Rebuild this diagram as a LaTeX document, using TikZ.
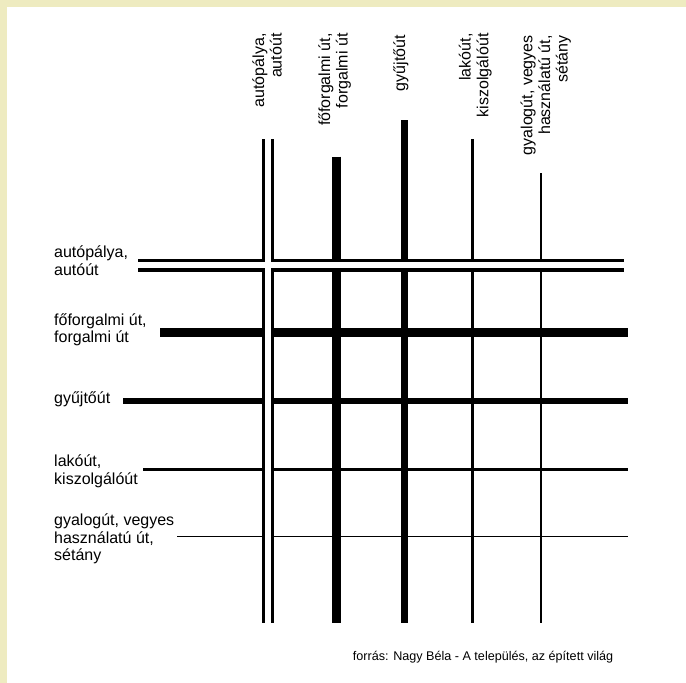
\documentclass[tikz,border=0pt]{standalone}
\usepackage{fontspec}
\setmainfont{Liberation Sans}
\definecolor{framecol}{RGB}{238,235,192}
\begin{document}
\begin{tikzpicture}[x=1pt,y=-1pt,
  rowlbl/.style={font=\fontsize{16}{17.7}\selectfont, inner sep=0pt, align=left, anchor=base west},
  collbl/.style={font=\fontsize{16}{17.7}\selectfont, inner sep=0pt, align=right, rotate=90, anchor=base east},
  srclbl/.style={font=\fontsize{12.6}{14}\selectfont, inner sep=0pt, anchor=base west},
  road/.style={line cap=butt, draw=black},
  fo/.style={road, line width=9pt},
  gy/.style={road, line width=6.5pt},
  la/.style={road, line width=3pt},
  ga/.style={road, line width=1.5pt},
  motorouter/.style={road, line width=12.5pt},
  motorinner/.style={line cap=butt, draw=white, line width=5.3pt}
]
\useasboundingbox (0,0) rectangle (686,683);
\fill[white] (0,0) rectangle (686,683);
\fill[framecol] (0,0) rectangle (686,7);
\fill[framecol] (0,0) rectangle (7,683);

% named end points of the roads
\coordinate (hA1) at (138,265);   \coordinate (hA2) at (624,265);
\coordinate (hF1) at (160,332.5); \coordinate (hF2) at (628,332.5);
\coordinate (hG1) at (123,401);   \coordinate (hG2) at (628,401);
\coordinate (hL1) at (143,469);   \coordinate (hL2) at (628,469);
\coordinate (hP1) at (177,536.5); \coordinate (hP2) at (628,536.5);
\coordinate (vA1) at (268,139.3); \coordinate (vA2) at (268,623);
\coordinate (vF1) at (336.2,156.7); \coordinate (vF2) at (336.2,623);
\coordinate (vG1) at (404.5,120); \coordinate (vG2) at (404.5,623);
\coordinate (vL1) at (472.5,139.3); \coordinate (vL2) at (472.5,623);
\coordinate (vP1) at (541,173.3); \coordinate (vP2) at (541,623);

% ordinary roads
\draw[fo] (hF1) -- (hF2);
\draw[gy] (hG1) -- (hG2);
\draw[la] (hL1) -- (hL2);
\draw[ga] (hP1) -- (hP2);
\draw[fo] (vF1) -- (vF2);
\draw[gy] (vG1) -- (vG2);
\draw[la] (vL1) -- (vL2);
\draw[ga] (vP1) -- (vP2);

% motorways (double lines on top)
\draw[motorouter] (vA1) -- (vA2);
\draw[motorouter, line width=13pt] (hA1) -- (hA2);
\draw[motorinner] (vA1) -- (vA2);
\draw[motorinner, line width=5.6pt] (hA1) -- (hA2);

% row labels (anchored at the baseline of the last line)
\node[rowlbl] (rA) at (54,275.3) {autópálya,\\autóút};
\node[rowlbl] (rF) at (54,342.7) {főforgalmi út,\\forgalmi út};
\node[rowlbl] (rG) at (54,403.3) {gyűjtőút};
\node[rowlbl] (rL) at (54,484.3) {lakóút,\\kiszolgálóút};
\node[rowlbl] (rP) at (54,560.7) {gyalogút, vegyes\\használatú út,\\sétány};

% column labels
\node[collbl] (cA) at (281.7,33.3) {autópálya,\\autóút};
\node[collbl] (cF) at (347.7,33.3) {főforgalmi út,\\forgalmi út};
\node[collbl] (cG) at (405,35) {gyűjtőút};
\node[collbl] (cL) at (488.3,33.3) {lakóút,\\kiszolgálóút};
\node[collbl] (cP) at (567.7,35) {gyalogút, vegyes\\használatú út,\\sétány};

% source
\node[srclbl] (src) at (352.7,660) {forrás: Nagy Béla - A település, az épített világ};
\end{tikzpicture}
\end{document}
